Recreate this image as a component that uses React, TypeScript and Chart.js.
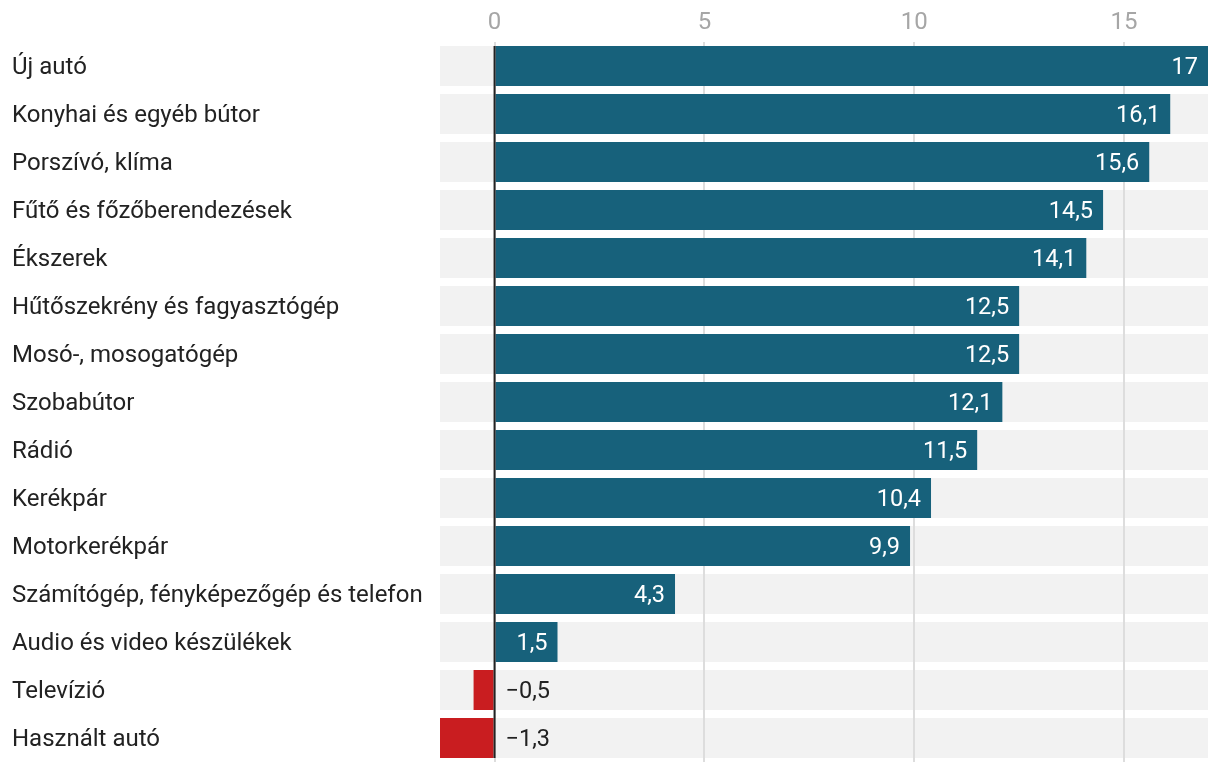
import React, { useEffect, useRef } from "react";
import { Chart, registerables } from "chart.js";

Chart.register(...registerables);

const categories = [
  "Új autó",
  "Konyhai és egyéb bútor",
  "Porszívó, klíma",
  "Fűtő és főzőberendezések",
  "Ékszerek",
  "Hűtőszekrény és fagyasztógép",
  "Mosó-, mosogatógép",
  "Szobabútor",
  "Rádió",
  "Kerékpár",
  "Motorkerékpár",
  "Számítógép, fényképezőgép és telefon",
  "Audio és video készülékek",
  "Televízió",
  "Használt autó",
];

const values = [17, 16.1, 15.6, 14.5, 14.1, 12.5, 12.5, 12.1, 11.5, 10.4, 9.9, 4.3, 1.5, -0.5, -1.3];

const xTicks = [0, 5, 10, 15];

const BLUE = "#17617b";
const RED = "#c91d20";
const FONT = "Roboto";

function fmt(v: number): string {
  const s = Math.abs(v).toString().replace(".", ",");
  return v < 0 ? "\u2212" + s : s;
}

const bgPlugin = {
  id: "rowBg",
  beforeDraw(chart: any) {
    const { ctx, chartArea, scales } = chart;
    const y = scales.y;
    ctx.save();
    ctx.fillStyle = "#f2f2f2";
    categories.forEach((_, i) => {
      const c = y.getPixelForValue(i);
      ctx.fillRect(chartArea.left, c - 20, chartArea.right - chartArea.left, 40);
    });
    ctx.restore();
  },
  afterDatasetsDraw(chart: any) {
    const { ctx, chartArea, scales } = chart;
    const x0 = scales.x.getPixelForValue(0);
    const meta = chart.getDatasetMeta(0);
    ctx.save();
    ctx.fillStyle = "#222";
    ctx.fillRect(x0 - 1, chartArea.top + 4, 2, chartArea.bottom - chartArea.top - 8);
    ctx.font = `23.5px ${FONT}`;
    ctx.textBaseline = "middle";
    meta.data.forEach((bar: any, i: number) => {
      const v = values[i];
      if (v >= 0) {
        ctx.fillStyle = "#ffffff";
        ctx.textAlign = "right";
        ctx.fillText(fmt(v), bar.x - 10, bar.y + 2);
      } else {
        ctx.fillStyle = "#222";
        ctx.textAlign = "left";
        ctx.fillText(fmt(v), x0 + 11, bar.y + 2);
      }
    });
    ctx.restore();
  },
};

export default function App() {
  const ref = useRef<HTMLCanvasElement | null>(null);
  useEffect(() => {
    if (!ref.current) return;
    const chart = new Chart(ref.current, {
      type: "bar",
      data: {
        labels: categories,
        datasets: [
          {
            data: values,
            backgroundColor: values.map((v) => (v >= 0 ? BLUE : RED)),
            barPercentage: 40 / 48,
            categoryPercentage: 1,
            borderWidth: 0,
          },
        ],
      },
      options: {
        indexAxis: "y",
        responsive: false,
        animation: false,
        layout: { padding: { left: 12, right: 12, top: 0, bottom: 6 } },
        plugins: { legend: { display: false }, tooltip: { enabled: false } },
        scales: {
          x: {
            position: "top",
            min: -1.3,
            max: 17,
            grid: { color: "#dddddd", drawTicks: false, lineWidth: 2 },
            border: { display: false },
            afterBuildTicks: (scale: any) => {
              scale.ticks = xTicks.map((v) => ({ value: v }));
            },
            afterFit: (scale: any) => {
              scale.height = 42;
              scale.paddingLeft = 0;
              scale.paddingRight = 0;
            },
            ticks: {
              color: "#a6a6a6",
              font: { family: FONT, size: 24 },
              padding: 5,
              callback: (v: any) => String(v),
            },
          },
          y: {
            grid: { display: false, drawTicks: false },
            border: { display: false },
            afterFit: (scale: any) => {
              scale.width = 428;
              scale.paddingTop = 0;
              scale.paddingBottom = 0;
            },
            ticks: {
              crossAlign: "far",
              color: "#222222",
              font: { family: FONT, size: 24 },
              padding: 0,
              labelOffset: 2,
            },
          },
        },
      },
      plugins: [bgPlugin],
    } as any);
    return () => chart.destroy();
  }, []);
  return (
    <canvas
      ref={ref}
      width={1220}
      height={768}
      style={{ position: "fixed", left: 0, top: 0, display: "block" }}
    />
  );
}
